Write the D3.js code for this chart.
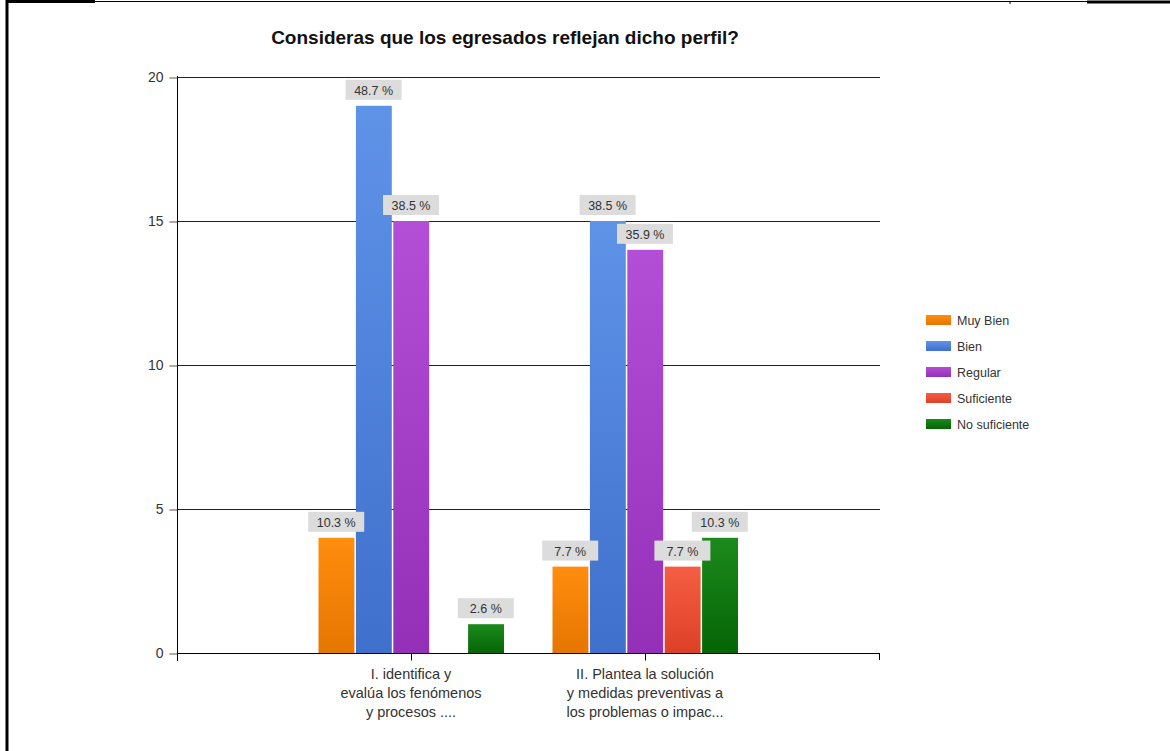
<!DOCTYPE html>
<html>
  <head>
    <meta charset="utf-8">
    <title>Egresados perfil</title>
    <script src="https://d3js.org/d3.v7.min.js"></script>
    <style>
      body { margin: 0; background: #fff; }
      svg { display: block; font-family: "Liberation Sans", Arial, sans-serif; }
    </style>
  </head>
  <body>
    <div class="chart"></div>
    <script>
      // data (counts, total 39 per question)
      var categories = [
        ["I. identifica y", "evalúa los fenómenos", "y procesos ...."],
        ["II. Plantea la solución", "y medidas preventivas a", "los problemas o impac..."]
      ];
      var seriesNames = ["Muy Bien", "Bien", "Regular", "Suficiente", "No suficiente"];
      var muyBien = [4, 3];
      var bien = [19, 15];
      var regular = [15, 14];
      var suficiente = [0, 3];
      var noSuficiente = [1, 4];
      var percentLabels = [
        ["10.3 %", "7.7 %"],
        ["48.7 %", "38.5 %"],
        ["38.5 %", "35.9 %"],
        ["", "7.7 %"],
        ["2.6 %", "10.3 %"]
      ];
      var yTicks = [0, 5, 10, 15, 20];
      var seriesValues = [muyBien, bien, regular, suficiente, noSuficiente];

      var colors = [
        ["#ff8d0e", "#e57600"],
        ["#5f93e8", "#3f70cc"],
        ["#b34ed6", "#9430b8"],
        ["#f55e44", "#dc4126"],
        ["#1c8a1c", "#056505"]
      ];

      var W = 1170, H = 751;
      var svg = d3.select(".chart").append("svg")
        .attr("width", W)
        .attr("height", H);

      // page frame bits
      svg.append("line").attr("x1", 7).attr("x2", 7).attr("y1", 0).attr("y2", H)
        .attr("stroke", "#000").attr("stroke-width", 3);
      svg.append("line").attr("x1", 6).attr("x2", 95).attr("y1", 1.5).attr("y2", 1.5)
        .attr("stroke", "#000").attr("stroke-width", 3);
      svg.append("line").attr("x1", 95).attr("x2", 1087).attr("y1", 1.5).attr("y2", 1.5)
        .attr("stroke", "#000").attr("stroke-width", 1);
      svg.append("line").attr("x1", 1010).attr("x2", 1010).attr("y1", 1).attr("y2", 4)
        .attr("stroke", "#000").attr("stroke-width", 1);
      svg.append("line").attr("x1", 1087).attr("x2", W).attr("y1", 2).attr("y2", 2)
        .attr("stroke", "#000").attr("stroke-width", 3);

      var plotLeft = 177, plotRight = 879, plotTop = 77, plotBottom = 653;

      var y = d3.scaleLinear().domain([0, 20]).range([plotBottom, plotTop]);
      var x0 = d3.scalePoint().domain(d3.range(categories.length)).range([plotLeft, plotRight]).padding(1);
      var barW = 37.4;
      var x1 = d3.scaleBand().domain(d3.range(seriesNames.length))
        .range([-barW * 2.5, barW * 2.5]);

      var defs = svg.append("defs");
      colors.forEach(function(c, i) {
        var g = defs.append("linearGradient").attr("id", "g" + i)
          .attr("x1", 0).attr("x2", 0).attr("y1", 0).attr("y2", 1);
        g.append("stop").attr("offset", "0%").attr("stop-color", c[0]);
        g.append("stop").attr("offset", "100%").attr("stop-color", c[1]);
      });

      // title
      svg.append("text")
        .attr("x", 505).attr("y", 44)
        .attr("text-anchor", "middle")
        .attr("font-size", 19).attr("font-weight", "bold")
        .attr("fill", "#111")
        .text("Consideras que los egresados reflejan dicho perfil?");

      // grid lines
      svg.append("g").selectAll("line")
        .data(yTicks.filter(function(d) { return d > 0; }))
        .enter().append("line")
          .attr("x1", plotLeft).attr("x2", plotRight + 1)
          .attr("y1", function(d) { return y(d) + 0.5; })
          .attr("y2", function(d) { return y(d) + 0.5; })
          .attr("stroke", "#222");

      // y axis
      var yAxis = svg.append("g")
        .attr("transform", "translate(" + (plotLeft + 0.5) + ",0.5)")
        .call(d3.axisLeft(y).tickValues(yTicks).tickSize(8).tickPadding(6));
      yAxis.select(".domain").remove();
      yAxis.selectAll(".tick line").attr("stroke", "#555");
      yAxis.selectAll(".tick text").attr("font-size", 14).attr("fill", "#333")
        .attr("font-family", "Liberation Sans, Arial, sans-serif");
      svg.append("line").attr("x1", plotLeft + 0.5).attr("x2", plotLeft + 0.5)
        .attr("y1", plotTop - 1).attr("y2", plotBottom + 8).attr("stroke", "#000");

      // flatten into one record per bar
      var bars = [];
      categories.forEach(function(c, ci) {
        seriesNames.forEach(function(name, s) {
          bars.push({ cat: ci, s: s, value: seriesValues[s][ci], label: percentLabels[s][ci] });
        });
      });
      function barCenter(d) { return x0(d.cat) + x1(d.s) + x1.bandwidth() / 2; }

      svg.append("g").selectAll("rect")
        .data(bars.filter(function(d) { return d.value > 0; }))
        .enter().append("rect")
          .attr("x", function(d) { return x0(d.cat) + x1(d.s) + 1; })
          .attr("width", x1.bandwidth() - 1.5)
          .attr("y", function(d) { return y(d.value); })
          .attr("height", function(d) { return plotBottom - y(d.value); })
          .attr("fill", function(d) { return "url(#g" + d.s + ")"; });

      // percentage labels
      var lab = svg.append("g").selectAll("g")
        .data(bars.filter(function(d) { return d.label !== ""; }))
        .enter().append("g")
          .attr("transform", function(d) { return "translate(" + barCenter(d) + "," + y(d.value) + ")"; });
      lab.append("rect")
        .attr("x", -28).attr("y", -26)
        .attr("width", 56).attr("height", 20)
        .attr("fill", "#dcdcdc");
      lab.append("text")
        .attr("text-anchor", "middle")
        .attr("y", -11)
        .attr("font-size", 12.5)
        .attr("fill", "#333")
        .text(function(d) { return d.label; });

      // x axis
      svg.append("line").attr("x1", plotLeft).attr("x2", plotRight + 1)
        .attr("y1", plotBottom + 0.5).attr("y2", plotBottom + 0.5).attr("stroke", "#000");
      var xAxis = svg.append("g")
        .attr("transform", "translate(0," + (plotBottom + 0.5) + ")")
        .call(d3.axisBottom(x0).tickSize(7).tickFormat(""));
      xAxis.select(".domain").remove();
      xAxis.selectAll(".tick line").attr("stroke", "#000");
      svg.append("line").attr("x1", plotRight + 0.5).attr("x2", plotRight + 0.5)
        .attr("y1", plotBottom).attr("y2", plotBottom + 7).attr("stroke", "#000");

      svg.append("g").selectAll("text")
        .data(categories)
        .enter().append("text")
          .attr("text-anchor", "middle")
          .attr("font-size", 14.5)
          .attr("fill", "#333")
          .attr("transform", function(d, i) { return "translate(" + x0(i) + ",0)"; })
        .selectAll("tspan")
          .data(function(d) { return d; })
          .enter().append("tspan")
            .attr("x", 0)
            .attr("y", function(d, i) { return 679 + i * 19; })
            .text(function(d) { return d; });

      // legend
      var legend = svg.append("g").selectAll("g")
        .data(seriesNames)
        .enter().append("g")
          .attr("transform", function(d, i) { return "translate(926," + (320 + i * 26) + ")"; });
      legend.append("rect")
        .attr("x", 0).attr("y", -5)
        .attr("width", 25).attr("height", 10)
        .attr("fill", function(d, i) { return "url(#g" + i + ")"; });
      legend.append("text")
        .attr("x", 31).attr("y", 4.5)
        .attr("font-size", 12.5)
        .attr("fill", "#333")
        .text(function(d) { return d; });
    </script>
  </body>
</html>
